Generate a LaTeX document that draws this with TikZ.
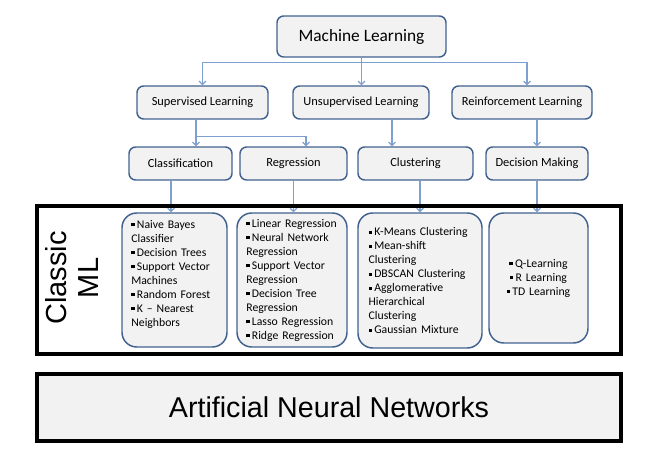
\documentclass[tikz,border=0pt]{standalone}
\usepackage{fontspec}
\setmainfont{Carlito}
\newfontfamily\arialfont{Liberation Sans}
\usetikzlibrary{positioning, arrows.meta, calc}

\definecolor{boxfill}{HTML}{F2F2F2}
\definecolor{boxline}{HTML}{41628F}
\definecolor{linkblue}{HTML}{7F9FD0}

\newcommand{\bsq}{\rule[1.3pt]{2.4pt}{2.4pt}\hspace{1.8pt}}

\begin{document}
\begin{tikzpicture}[x=0.75pt, y=-0.75pt,
        every node/.style={align=center, inner sep=0pt},
        tierbox/.style={draw=boxline, line width=1.1pt, rounded corners=5pt, fill=boxfill,
            minimum height=24.75pt, font=\fontsize{9.3}{11}\selectfont},
        topbox/.style={tierbox, minimum width=126.75pt, minimum height=30.75pt, font=\fontsize{13}{15}\selectfont},
        listbox/.style={draw=boxline, line width=1.1pt, rounded corners=11pt, fill=boxfill,
            minimum height=100.5pt, inner xsep=7pt, align=left, font=\fontsize{8.8}{10.5}\selectfont},
        mlframe/.style={draw=black, line width=3pt, minimum width=438pt},
        conn/.style={draw=linkblue, line width=0.9pt},
        arrow/.style={conn, -{Straight Barb[length=2.5pt, width=5pt]}}]

        \useasboundingbox (0,0) rectangle (657,459);

        % root and the three kinds of learning
        \node[topbox] (ml) at (361.5,36.5) {Machine Learning};
        \node[tierbox, minimum width=98.25pt] (sup)  at (202.5,102.5) {Supervised Learning};
        \node[tierbox, minimum width=102pt]   (uns)  at (361,102.5)   {Unsupervised Learning};
        \node[tierbox, minimum width=105pt]   (rein) at (522,102.5)   {Reinforcement Learning};

        % tasks
        \node[tierbox, minimum width=77.25pt] (cla) at (180.5,163.5) {Classification};
        \node[tierbox, minimum width=80.25pt] (reg) at (293.5,163.5) {Regression};
        \node[tierbox, minimum width=86.25pt] (clu) at (415.5,163.5) {Clustering};
        \node[tierbox, minimum width=76.5pt]  (dec) at (537,163.5)   {Decision Making};

        % algorithm lists
        \node[listbox, minimum width=78.75pt, text width=64.75pt] (clsbox) at (174.5,280)
            {\bsq Naive Bayes\\ Classifier\\ \bsq Decision Trees\\ \bsq Support Vector\\ Machines\\
             \bsq Random Forest\\ \bsq K – Nearest\\ Neighbors\\ \mbox{}};
        \node[listbox, minimum width=82.5pt, text width=68.5pt] (regbox) at (292,280)
            {\bsq Linear Regression\\ \bsq Neural Network\\ Regression\\ \bsq Support Vector\\ Regression\\
             \bsq Decision Tree\\ Regression\\ \bsq Lasso Regression\\ \bsq Ridge Regression};
        \node[listbox, minimum width=93pt, text width=77pt, inner xsep=8pt, minimum height=101.25pt] (clubox) at (420,280.5)
            {\bsq K-Means Clustering\\ \bsq Mean-shift\\ Clustering\\ \bsq DBSCAN Clustering\\
             \bsq Agglomerative\\ Hierarchical\\ Clustering\\ \bsq Gaussian Mixture};
        \node[listbox, align=center, minimum width=74.25pt, text width=60.25pt, minimum height=97.5pt] (decbox) at (538.5,278)
            {\bsq Q-Learning\\ \bsq R Learning\\ \bsq TD Learning};

        % connectors from the root
        \draw[conn] (ml.south) -- ($(ml.south)+(0,5)$) coordinate (mlbus);
        \draw[arrow] (mlbus) -| (sup.north);
        \draw[arrow] (mlbus) -- (mlbus |- uns.north);
        \draw[arrow] (mlbus) -| ($(rein.north)+(5,0)$);

        % connectors to the tasks
        \draw[conn] ($(sup.south)+(-6.5,0)$) -- ++(0,17) coordinate (supbus);
        \draw[arrow] (supbus) -- (supbus |- cla.north);
        \draw[arrow] (supbus) -| ($(reg.north)+(12.5,0)$);
        \draw[arrow] ($(uns.south)+(31,0)$) coordinate (unsout) -- (unsout |- clu.north);
        \draw[arrow] (rein.south -| dec.north) -- (dec.north);

        % connectors to the lists
        \draw[arrow] ($(cla.south)+(-9.5,0)$) coordinate (claout) -- (claout |- clsbox.north);
        \draw[arrow] (reg.south) -- (reg.south |- regbox.north);
        \draw[arrow] (clu.south -| clubox.north) -- (clubox.north);
        \draw[arrow] (dec.south) -- (dec.south |- decbox.north);

        % classic ML frame and neural networks bar
        \node[mlframe, minimum height=111pt] (classic) at (329,280) {};
        \node[rotate=90, font=\arialfont\fontsize{21.75}{24}\selectfont] (classiclbl) at (72,278) {Classic\\ML};
        \node[mlframe, fill=boxfill, minimum height=50.25pt, font=\arialfont\fontsize{21.5}{24}\selectfont] (ann)
            at (329,407.5) {Artificial Neural Networks};
    \end{tikzpicture}
\end{document}
